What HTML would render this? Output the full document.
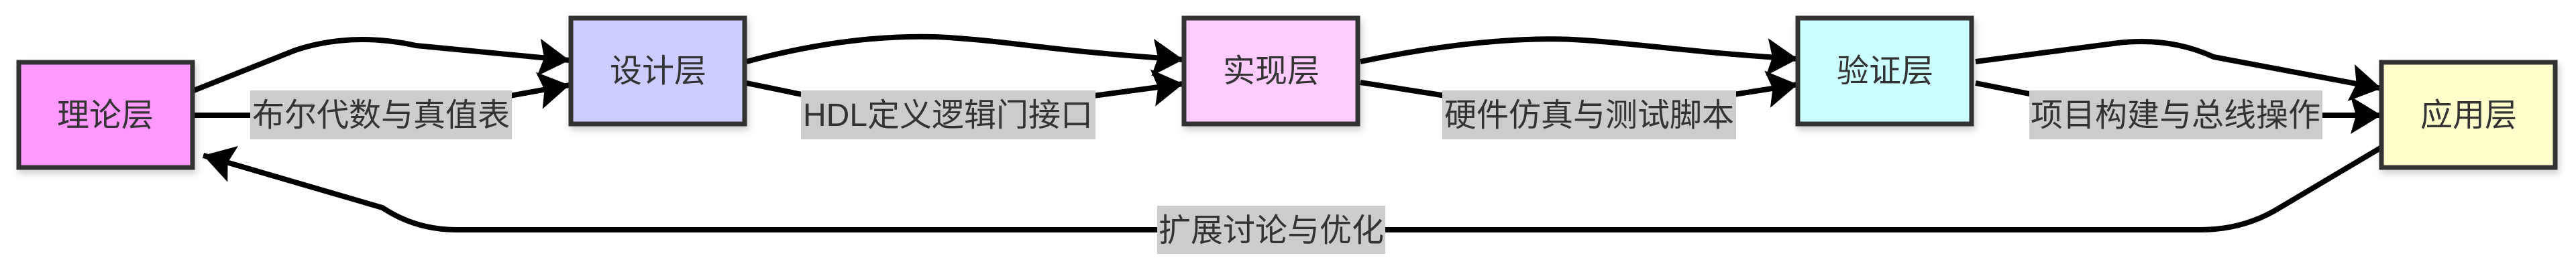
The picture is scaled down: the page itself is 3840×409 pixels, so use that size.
<!DOCTYPE html>
<html><head><meta charset="utf-8"><style>
html,body{margin:0;padding:0;background:#fff;}
svg{display:block;}
text{font-family:"Liberation Sans","Noto Sans CJK SC",sans-serif;fill:#333;}
</style></head><body>
<svg width="3840" height="409" viewBox="0 0 3840 409" xmlns="http://www.w3.org/2000/svg">
<defs>
<marker id="a" markerUnits="userSpaceOnUse" markerWidth="50" markerHeight="56" refX="46" refY="28" orient="auto">
<path d="M0,0 L46,28 L0,56 L8,28 Z" fill="#000"/>
</marker>
<filter id="sh" x="-20%" y="-20%" width="140%" height="150%"><feDropShadow dx="3" dy="6" stdDeviation="5" flood-color="#000" flood-opacity="0.18"/></filter>
</defs>
<g fill="none" stroke="#000" stroke-width="8">
<path d="M289,135 L440,75 C500,55 560,55 620,68 L849,90" marker-end="url(#a)"/>
<path d="M289,172 L380,172"/>
<path d="M760,143 L849,127" marker-end="url(#a)"/>
<path d="M1113,92 C1250,55 1360,50 1440,58 C1520,64 1560,75 1764,89" marker-end="url(#a)"/>
<path d="M1113,124 L1200,142"/>
<path d="M1630,143 L1764,125" marker-end="url(#a)"/>
<path d="M2028,92 C2180,60 2290,55 2361,60 C2450,66 2520,78 2680,88" marker-end="url(#a)"/>
<path d="M2028,123 L2155,143"/>
<path d="M2585,141 L2680,126" marker-end="url(#a)"/>
<path d="M2945,92 L3150,65 C3200,58 3250,62 3300,85 L3550,132" marker-end="url(#a)"/>
<path d="M2945,124 L3030,141"/>
<path d="M3455,172 L3550,172" marker-end="url(#a)"/>
<path d="M3550,220 L3390,315 Q3340,343 3280,343 L680,343 Q620,343 570,310 L303,232" marker-end="url(#a)"/>
</g>
<g stroke="#333" stroke-width="7" filter="url(#sh)">
<rect x="28" y="93" width="259" height="157" fill="#ff99ff"/>
<rect x="851" y="27" width="259" height="158" fill="#ccccff"/>
<rect x="1765" y="27" width="259" height="158" fill="#ffccff"/>
<rect x="2680" y="27" width="259" height="158" fill="#ccffff"/>
<rect x="3550" y="93" width="259" height="157" fill="#ffffcc"/>
</g>
<g font-size="48" text-anchor="middle">
<text x="157" y="188">理论层</text>
<text x="981" y="122">设计层</text>
<text x="1895" y="122">实现层</text>
<text x="2810" y="122">验证层</text>
<text x="3680" y="188">应用层</text>
</g>
<g fill="#cccccc">
<rect x="373" y="135" width="390" height="73"/>
<rect x="1194" y="135" width="439" height="73"/>
<rect x="2150" y="135" width="438" height="73"/>
<rect x="3025" y="135" width="437" height="73"/>
<rect x="1725" y="307" width="340" height="72"/>
</g>
<g font-size="48" text-anchor="middle">
<text x="568" y="188" textLength="384" lengthAdjust="spacingAndGlyphs">布尔代数与真值表</text>
<text x="1413" y="188" textLength="432" lengthAdjust="spacingAndGlyphs">HDL定义逻辑门接口</text>
<text x="2369" y="188" textLength="432" lengthAdjust="spacingAndGlyphs">硬件仿真与测试脚本</text>
<text x="3243" y="188" textLength="432" lengthAdjust="spacingAndGlyphs">项目构建与总线操作</text>
<text x="1895" y="360" textLength="336" lengthAdjust="spacingAndGlyphs">扩展讨论与优化</text>
</g>
</svg>
</body></html>
